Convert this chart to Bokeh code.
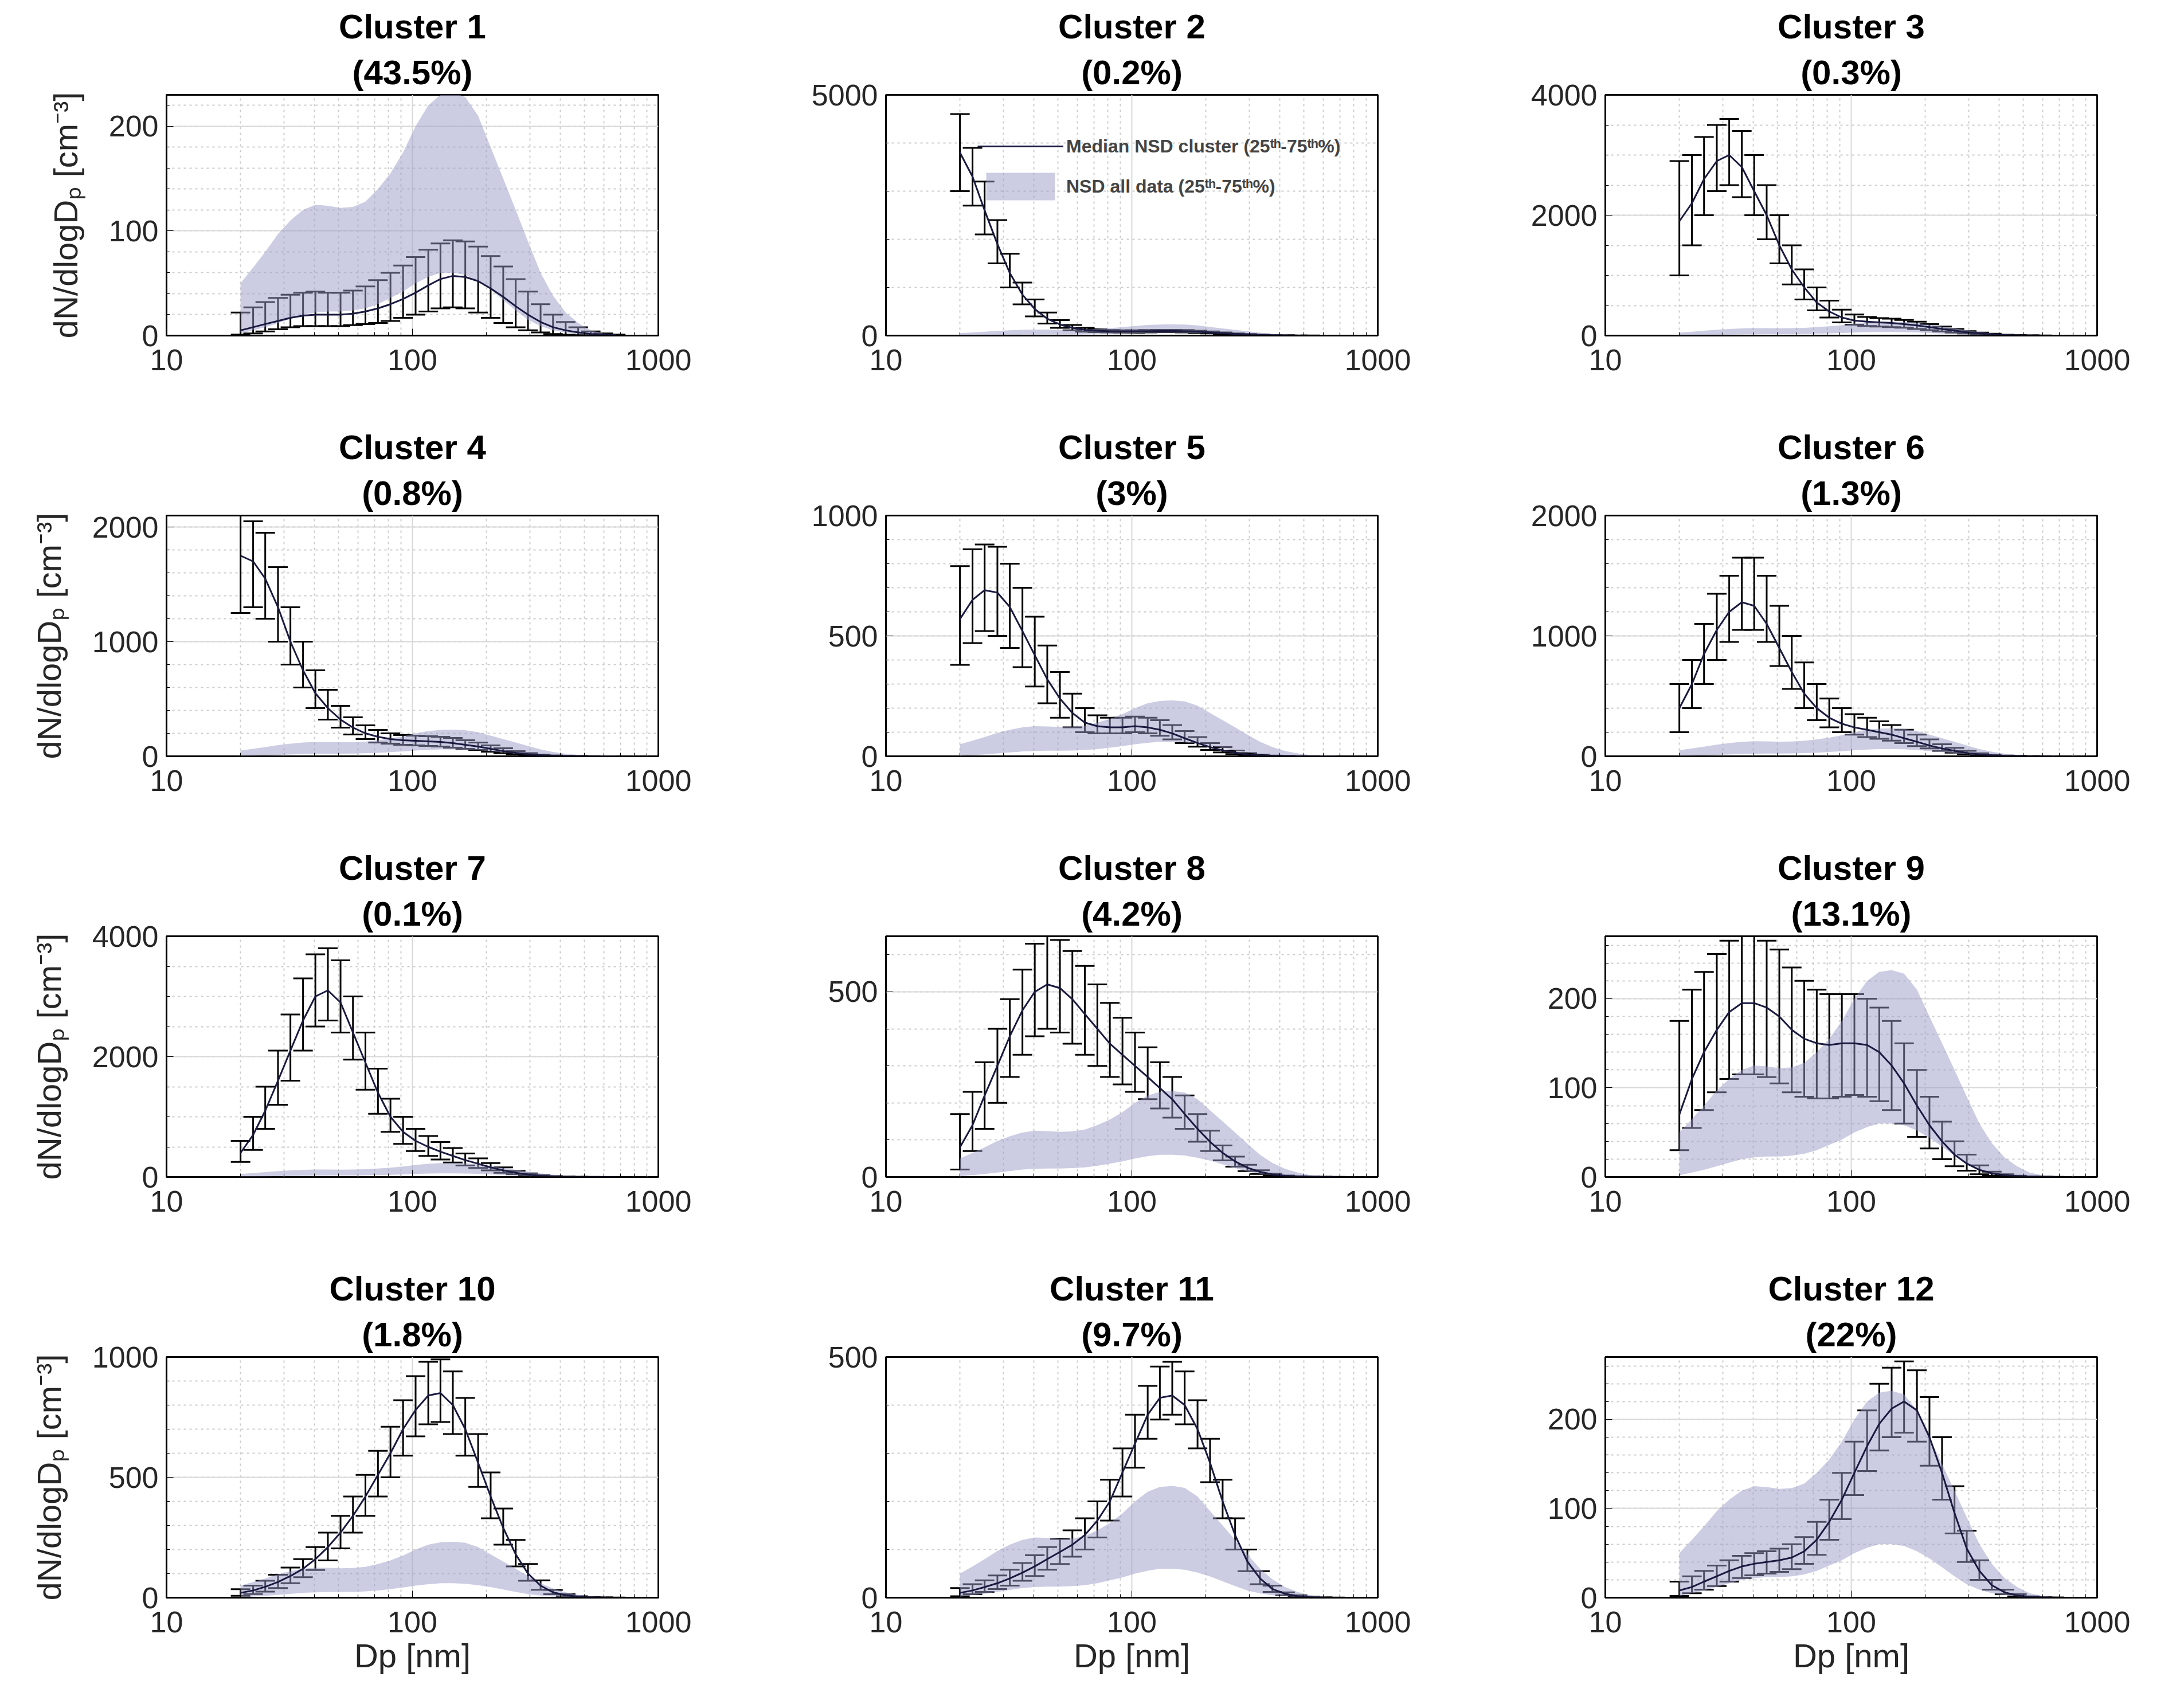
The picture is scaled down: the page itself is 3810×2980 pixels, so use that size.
from bokeh.plotting import figure
from bokeh.models import FixedTicker, Title, Whisker, TeeHead, ColumnDataSource, Legend, LegendItem
from bokeh.layouts import gridplot
from bokeh.embed import file_html
from bokeh.resources import INLINE

dp = [20.0,22.5,25.2,28.4,31.9,35.9,40.3,45.3,51.0,57.3,64.4,72.4,81.4,91.6,103,116,130,146,164,185,208,234,263,295,332,373,420,472,531,597,671]

all_q75 = [50,65,80,97,110,120,125,124,122,123,128,140,155,175,200,220,230,232,228,210,180,150,120,90,60,38,22,12,5,2,1]
all_q25 = [2,5,8,12,16,20,22,23,23,24,26,30,36,42,50,56,60,60,58,52,44,34,24,15,9,5,3,1.5,0.8,0.4,0.2]

titles = ["Cluster 1","Cluster 2","Cluster 3","Cluster 4","Cluster 5","Cluster 6","Cluster 7","Cluster 8","Cluster 9","Cluster 10","Cluster 11","Cluster 12"]
shares = ["(43.5%)","(0.2%)","(0.3%)","(0.8%)","(3%)","(1.3%)","(0.1%)","(4.2%)","(13.1%)","(1.8%)","(9.7%)","(22%)"]

med = [
[5,8,11,14,17,19,20,20,20,21,23,26,30,35,41,48,54,57,56,52,45,37,28,20,13,8,5,3,1.5,0.8,0.4],
[3800,3300,2600,1900,1300,850,550,350,230,160,120,100,90,85,85,90,95,95,90,80,65,50,35,25,15,8,4,2,1,0.5,0.2],
[1900,2200,2600,2900,3000,2800,2400,2000,1500,1100,800,550,400,300,250,230,220,210,190,170,140,110,80,55,35,20,10,5,2,1,0.5],
[1750,1700,1550,1300,1000,750,550,420,320,250,200,170,150,140,135,130,125,115,100,85,65,45,30,18,10,5,2,1,0.5,0.2,0.1],
[570,650,690,680,620,520,420,320,240,180,140,125,120,120,125,120,110,95,75,55,38,25,15,8,4,2,1,0.5,0.2,0.1,0.05],
[400,600,850,1050,1200,1280,1250,1100,900,700,520,400,320,270,240,220,200,180,150,120,90,65,45,28,15,8,4,2,1,0.5,0.2],
[400,700,1100,1600,2100,2600,3000,3100,2900,2400,1900,1400,1000,750,600,500,420,350,280,220,160,110,70,40,20,10,5,2,1,0.5,0.3],
[80,140,220,300,380,450,500,520,510,480,440,400,360,330,300,270,240,210,170,130,95,65,42,25,14,7,3,1.5,0.7,0.3,0.1],
[70,110,140,165,185,195,195,190,180,165,155,150,148,150,150,148,140,125,105,80,58,40,25,15,8,4,2,1,0.5,0.2,0.1],
[20,30,45,65,90,120,160,210,270,340,420,510,600,700,780,840,850,800,700,560,420,290,180,100,50,22,10,4,1.5,0.5,0.2],
[10,15,22,30,40,52,65,80,95,110,130,160,200,260,320,380,415,420,400,350,280,200,130,75,40,18,8,3,1,0.4,0.1],
[8,12,18,24,30,35,38,40,42,45,52,65,85,110,140,170,195,212,220,210,180,140,95,55,30,14,6,2.5,1,0.4,0.1],
]
q25 = [
[1,2,4,6,8,9,9,9,9,10,11,12,14,17,20,23,26,27,26,22,17,12,8,5,3,1.5,0.8,0.4,0.2,0.1,0.05],
[3000,2700,2100,1500,1000,650,400,250,160,110,80,70,65,60,60,65,70,70,65,55,45,35,25,15,10,5,2,1,0.5,0.2,0.1],
[1000,1500,2000,2400,2500,2300,2000,1600,1200,850,600,420,300,220,180,160,150,140,130,110,90,70,50,35,20,10,5,2,1,0.5,0.2],
[1250,1300,1200,1000,800,600,420,320,250,190,150,120,110,100,95,90,85,75,65,55,40,28,18,10,5,2,1,0.5,0.2,0.1,0.05],
[380,470,520,500,450,370,290,220,160,120,100,95,95,95,100,95,85,70,55,40,26,16,9,5,2,1,0.5,0.2,0.1,0.05,0.02],
[200,400,600,800,950,1050,1050,950,750,560,400,300,240,200,180,160,145,130,110,85,65,45,30,18,10,5,2,1,0.5,0.2,0.1],
[250,450,800,1200,1600,2100,2500,2600,2400,1950,1450,1050,750,550,430,350,290,240,190,150,110,70,45,25,12,6,3,1,0.5,0.2,0.1],
[20,70,130,200,270,330,380,400,390,360,330,300,270,250,230,210,185,160,130,95,70,45,28,16,8,4,2,1,0.5,0.2,0.1],
[30,55,75,95,110,115,115,112,105,95,90,88,88,90,92,90,85,75,60,45,32,20,12,7,3,1.5,0.7,0.3,0.1,0.05,0.02],
[8,15,25,40,60,85,115,155,205,270,340,420,500,590,670,720,730,680,590,460,330,220,130,70,33,14,6,2,1,0.3,0.1],
[3,7,12,18,25,35,45,58,70,85,100,125,160,210,270,330,370,380,360,310,240,165,100,55,28,12,5,2,0.7,0.2,0.1],
[2,5,9,13,18,22,25,27,29,32,38,48,65,88,115,142,165,180,185,175,148,110,72,40,20,9,4,1.5,0.5,0.2,0.1],
]
q75 = [
[22,27,32,36,39,41,42,41,41,43,47,53,60,67,75,82,88,91,90,85,76,66,54,42,30,20,13,8,4,2,1],
[4600,3900,3200,2400,1700,1100,750,480,320,220,160,130,115,110,110,115,120,120,115,100,85,65,45,32,20,10,5,3,1.5,0.8,0.3],
[2900,3000,3300,3500,3600,3400,3000,2500,2000,1500,1100,800,580,430,350,310,290,280,260,230,190,150,110,75,50,30,15,8,4,2,1],
[2100,2050,1950,1650,1300,1000,750,580,440,340,270,230,200,185,180,175,170,160,140,120,95,70,45,28,15,8,4,2,1,0.5,0.2],
[790,860,880,870,800,700,580,460,350,260,200,170,160,160,165,160,150,130,105,80,55,38,24,13,7,3,1.5,0.8,0.3,0.1,0.05],
[600,800,1100,1350,1500,1650,1650,1500,1250,1000,780,600,480,400,350,320,290,260,220,180,140,100,70,45,25,12,6,3,1.5,0.7,0.3],
[600,1000,1500,2100,2700,3300,3700,3800,3600,3000,2400,1800,1300,1000,800,680,580,480,390,310,230,160,100,60,30,15,7,3,1.5,0.7,0.3],
[170,230,310,400,480,560,630,650,640,610,570,520,470,430,390,350,310,270,220,170,125,85,55,33,18,9,4,2,1,0.4,0.2],
[175,210,230,250,265,270,270,265,255,235,220,210,205,205,205,200,190,175,150,120,90,62,40,25,13,6,3,1.5,0.7,0.3,0.1],
[35,50,70,95,125,160,210,270,340,420,510,610,710,820,920,980,990,940,830,680,520,370,240,140,72,32,14,6,2,1,0.3],
[20,28,36,46,58,72,88,105,122,140,165,200,245,310,380,440,480,490,470,410,330,245,165,100,55,25,11,5,2,0.6,0.2],
[18,24,30,36,42,47,50,52,55,60,68,85,110,140,175,210,240,258,265,255,225,180,125,75,42,20,9,4,1.5,0.6,0.2],
]
ymax = [230,5000,4000,2100,1000,2000,4000,650,270,1000,500,270]
ymaj = [100,5000,2000,1000,500,1000,2000,500,100,500,500,100]
yminor_step = [20,1000,500,200,100,200,500,100,20,100,100,20]

FONT = "Liberation Sans"
x_minor = [20,30,40,50,60,70,80,90,200,300,400,500,600,700,800,900]

figs = []
for k in range(12):
    r, c = divmod(k, 3)
    h = 734 + (40 if r == 3 else 0)
    p = figure(width=1255, height=h, x_axis_type="log", x_range=(10, 1000), y_range=(0, ymax[k]),
               output_backend="svg", toolbar_location=None,
               min_border_left=290, min_border_right=107, min_border_top=165,
               min_border_bottom=h - 165 - 420)
    p.title.text = titles[k]
    p.title.text_font = FONT
    p.title.text_font_size = "60px"
    p.title.align = "center"
    p.title.text_color = "black"
    p.add_layout(Title(text=shares[k], text_font=FONT, text_font_size="60px", align="center",
                       text_color="black", standoff=12), "above")
    p.outline_line_color = "black"
    p.outline_line_width = 3
    p.xaxis.ticker = FixedTicker(ticks=[10, 100, 1000], minor_ticks=x_minor)
    p.xaxis.major_label_overrides = {10: "10", 100: "100", 1000: "1000"}
    majors = list(range(0, ymax[k] + 1, ymaj[k]))
    minors = list(range(0, ymax[k] + 1, yminor_step[k]))
    p.yaxis.ticker = FixedTicker(ticks=majors, minor_ticks=minors)
    for ax in (p.xaxis, p.yaxis):
        ax.major_label_text_font = FONT
        ax.major_label_text_font_size = "52px"
        ax.major_label_text_color = "#262626"
        ax.axis_line_color = "black"
        ax.axis_line_width = 2
        ax.major_tick_in = 12
        ax.major_tick_out = 0
        ax.minor_tick_in = 6
        ax.minor_tick_out = 0
        ax.major_label_standoff = 14
    p.xaxis.major_label_standoff = 24
    p.xgrid.grid_line_color = "#d9d9d9"
    p.ygrid.grid_line_color = "#d9d9d9"
    p.xgrid.grid_line_width = 2
    p.ygrid.grid_line_width = 2
    p.xgrid.minor_grid_line_color = "#cccccc"
    p.ygrid.minor_grid_line_color = "#cccccc"
    p.xgrid.minor_grid_line_dash = "4 6"
    p.ygrid.minor_grid_line_dash = "4 6"
    p.xgrid.minor_grid_line_width = 2
    p.ygrid.minor_grid_line_width = 2
    if c == 0:
        p.yaxis.axis_label = "dN/dlogDₚ [cm⁻³]"
        p.yaxis.axis_label_text_font = FONT
        p.yaxis.axis_label_text_font_size = "58px"
        p.yaxis.axis_label_text_font_style = "normal"
        p.yaxis.axis_label_text_color = "#262626"
        p.yaxis.axis_label_standoff = 40
    if r == 3:
        p.xaxis.axis_label = "Dp [nm]"
        p.xaxis.axis_label_text_font = FONT
        p.xaxis.axis_label_text_font_size = "58px"
        p.xaxis.axis_label_text_font_style = "normal"
        p.xaxis.axis_label_text_color = "#262626"

    band = p.varea(x=dp, y1=all_q25, y2=all_q75, fill_color="#9a9ac8", fill_alpha=0.5)
    src = ColumnDataSource(dict(x=dp, lo=q25[k], hi=q75[k]))
    w = Whisker(source=src, base="x", lower="lo", upper="hi", line_color="black", line_width=3,
                lower_head=TeeHead(size=34, line_color="black", line_width=3),
                upper_head=TeeHead(size=34, line_color="black", line_width=3))
    p.add_layout(w)
    ln = p.line(dp, med[k], line_color="#1a1a40", line_width=3)
    if k == 1:
        leg = Legend(items=[LegendItem(label="Median NSD cluster (25ᵗʰ-75ᵗʰ%)", renderers=[ln]),
                            LegendItem(label="NSD all data (25ᵗʰ-75ᵗʰ%)", renderers=[band])],
                     location=(150, 220), label_text_font=FONT, label_text_font_size="32px",
                     label_text_font_style="bold", background_fill_alpha=0, border_line_alpha=0,
                     glyph_width=150, glyph_height=60, spacing=10)
        p.add_layout(leg, "center")
    figs.append(p)

grid = gridplot([figs[i:i + 3] for i in range(0, 12, 3)], toolbar_location=None)
open("out.html", "w").write(file_html(grid, INLINE))
